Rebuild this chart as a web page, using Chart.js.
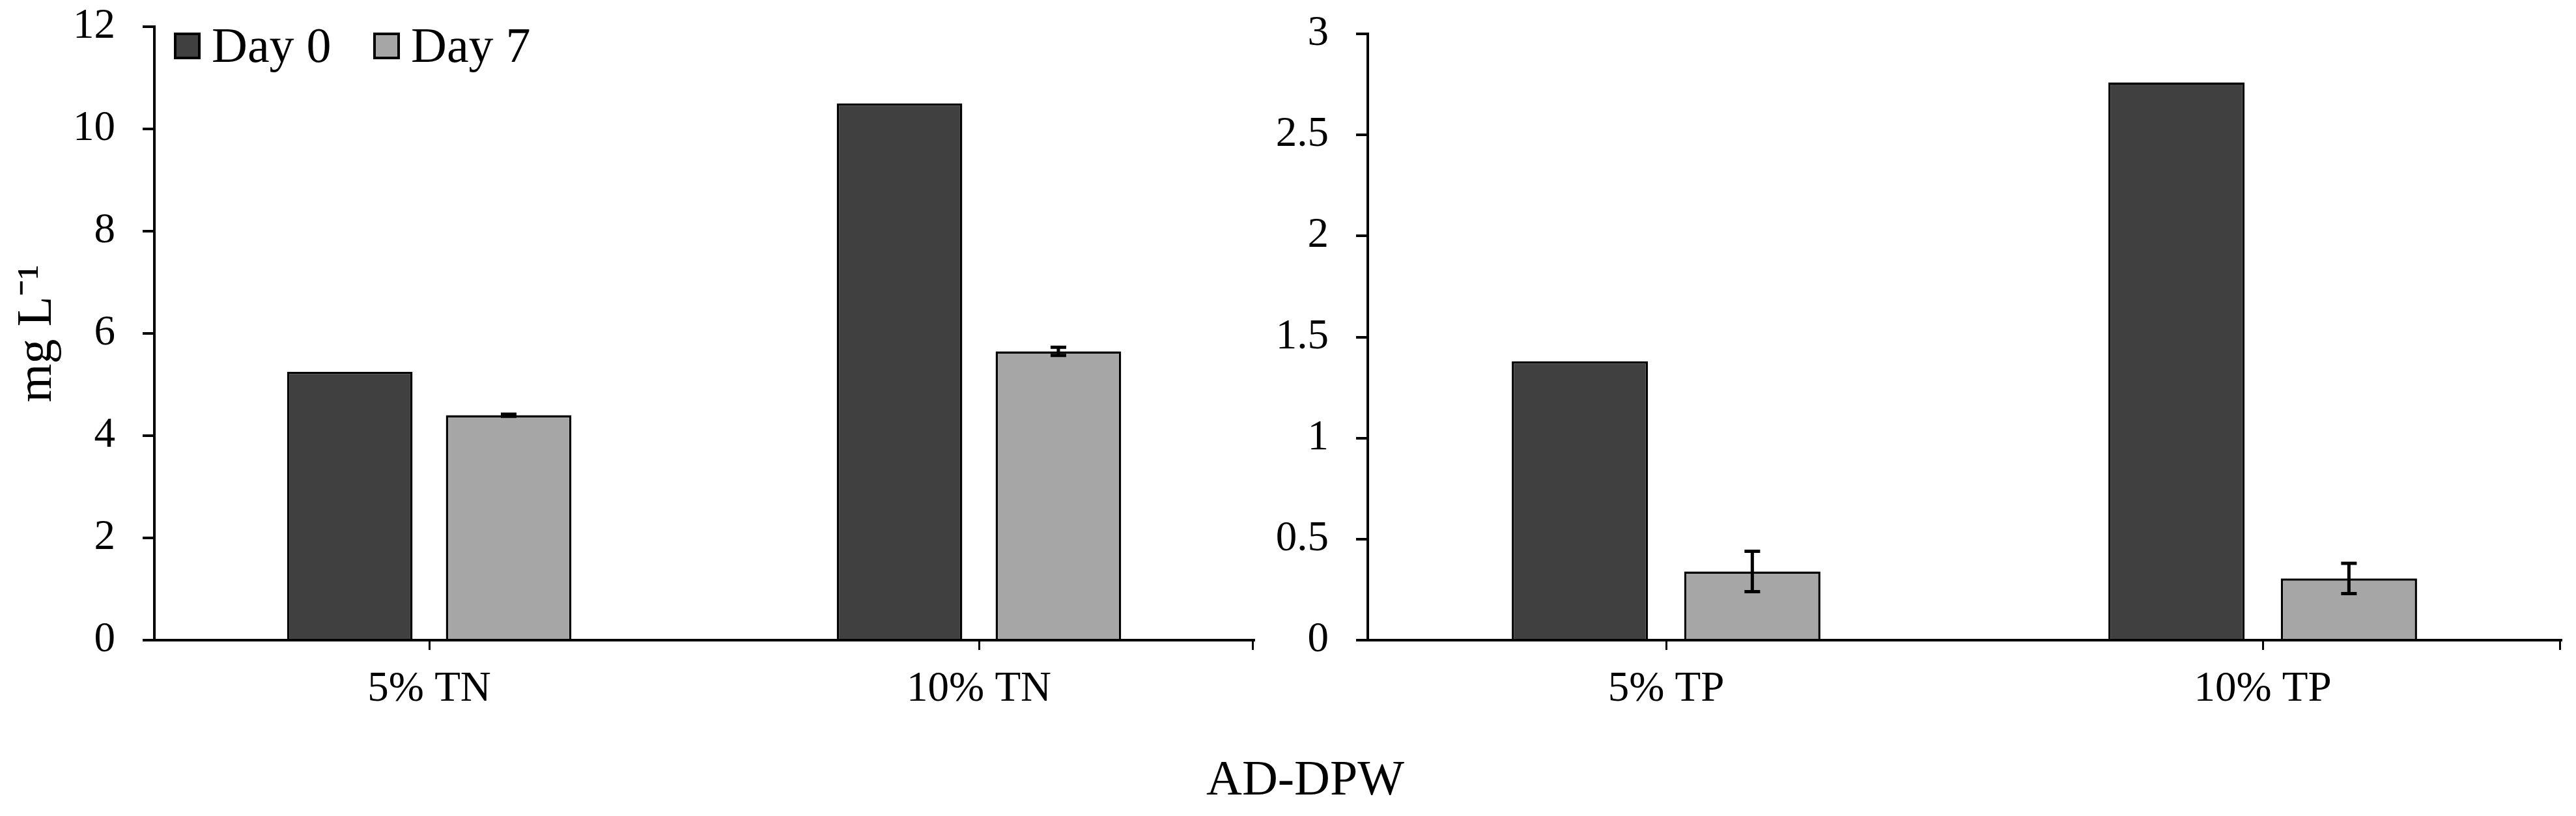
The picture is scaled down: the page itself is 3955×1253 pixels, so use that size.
<!DOCTYPE html>
<html>
<head>
<meta charset="utf-8">
<script src="https://cdn.jsdelivr.net/npm/chart.js@4.4.1/dist/chart.umd.min.js"></script>
<style>
  html, body { margin: 0; padding: 0; background: #fff; }
  #wrap { position: relative; width: 3955px; height: 1253px; overflow: hidden;
    font-family: 'Liberation Serif', 'Times New Roman', serif; color: #000; }
  #tnChart { position: absolute; left: 0; top: 0; }
  #tpChart { position: absolute; left: 1940px; top: 0; }
  #xTitle { position: absolute; left: 2004px; top: 1156px; transform: translateX(-50%);
    font-size: 76px; line-height: 1; white-space: nowrap; }
  .lg-box { position: absolute; top: 50px; width: 41px; height: 41px; box-sizing: border-box; border: 4px solid #000; }
  .lg-text { position: absolute; top: 31px; font-size: 76px; line-height: 1; white-space: nowrap; }
</style>
</head>
<body>
<div id="wrap">
  <canvas id="tnChart" width="1960" height="1253"></canvas>
  <canvas id="tpChart" width="2015" height="1253"></canvas>
  <div id="legend"></div>
  <div id="xTitle">AD-DPW</div>
</div>
<script>
// data
const tnLabels = ['5% TN', '10% TN'];
const tnDay0 = [5.25, 10.5];
const tnDay7 = [4.4, 5.65];
const tnDay0Err = [0, 0];
const tnDay7Err = [0.02, 0.08];

const tpLabels = ['5% TP', '10% TP'];
const tpDay0 = [1.38, 2.76];
const tpDay7 = [0.34, 0.305];
const tpDay0Err = [0, 0];
const tpDay7Err = [0.1, 0.075];

const seriesNames = ['Day 0', 'Day 7'];
const seriesColors = ['#404040', '#a6a6a6'];

Chart.defaults.font.family = "'Liberation Serif', 'Times New Roman', serif";
Chart.defaults.font.size = 65;
Chart.defaults.color = '#000';

// error bars, drawn through the y scale
const errorBars = {
  id: 'errorBars',
  afterDatasetsDraw(chart) {
    const ctx = chart.ctx;
    const y = chart.scales.y;
    chart.data.datasets.forEach((ds, di) => {
      if (!ds.err) return;
      chart.getDatasetMeta(di).data.forEach((bar, i) => {
        const e = ds.err[i];
        if (!e) return;
        const top = y.getPixelForValue(ds.data[i] + e);
        const bot = y.getPixelForValue(ds.data[i] - e);
        ctx.save();
        ctx.strokeStyle = '#000';
        ctx.lineWidth = 5;
        ctx.beginPath();
        ctx.moveTo(bar.x, top);
        ctx.lineTo(bar.x, bot);
        ctx.moveTo(bar.x - 12, top);
        ctx.lineTo(bar.x + 12, top);
        ctx.moveTo(bar.x - 12, bot);
        ctx.lineTo(bar.x + 12, bot);
        ctx.stroke();
        ctx.restore();
      });
    });
  }
};

// small tick at the right end of the category axis
const endTick = {
  id: 'endTick',
  afterDraw(chart) {
    const a = chart.chartArea;
    const ctx = chart.ctx;
    ctx.save();
    ctx.strokeStyle = '#000';
    ctx.lineWidth = 3;
    ctx.beginPath();
    ctx.moveTo(a.right - 1.5, a.bottom);
    ctx.lineTo(a.right - 1.5, a.bottom + 15);
    ctx.stroke();
    ctx.restore();
  }
};

function makeDatasets(d0, d7, e0, e7) {
  return [
    { label: seriesNames[0], data: d0, err: e0, backgroundColor: seriesColors[0],
      borderColor: '#000', borderWidth: 3.5, categoryPercentage: 0.578, barPercentage: 0.79 },
    { label: seriesNames[1], data: d7, err: e7, backgroundColor: seriesColors[1],
      borderColor: '#000', borderWidth: 3.5, categoryPercentage: 0.578, barPercentage: 0.79 }
  ];
}

function makeOptions(opt) {
  return {
    responsive: false,
    devicePixelRatio: 1,
    animation: false,
    layout: { padding: { top: opt.top, right: opt.right, left: 0, bottom: 0 } },
    plugins: { legend: { display: false }, tooltip: { enabled: false } },
    scales: {
      x: {
        offset: true,
        grid: { offset: false, drawOnChartArea: false, tickLength: 15, color: '#000', lineWidth: 3 },
        border: { display: true, color: '#000', width: 4 },
        ticks: { padding: 22, font: { size: 65 } },
        afterFit(s) {
          s.height = 1253 - 983;
          s.paddingLeft = 0; s.paddingRight = 0;
        }
      },
      y: {
        min: 0, max: opt.max,
        ticks: { stepSize: opt.step, padding: 42, font: { size: 65 }, callback: v => String(v) },
        grid: { drawOnChartArea: false, tickLength: 18, color: '#000', lineWidth: 4 },
        border: { display: true, color: '#000', width: 4 },
        title: opt.title
          ? { display: true, text: opt.title, font: { size: 76 }, padding: { top: 12, bottom: 0 } }
          : { display: false },
        afterFit(s) {
          s.width = opt.axisW;
          s.paddingTop = 0; s.paddingBottom = 0;
        }
      }
    }
  };
}

const tnChart = new Chart(document.getElementById('tnChart'), {
  type: 'bar',
  data: { labels: tnLabels, datasets: makeDatasets(tnDay0, tnDay7, tnDay0Err, tnDay7Err) },
  options: makeOptions({ top: 41, right: 35, max: 12, step: 2, axisW: 237, title: 'mg L\u207B\u00B9' }),
  plugins: [errorBars, endTick]
});

new Chart(document.getElementById('tpChart'), {
  type: 'bar',
  data: { labels: tpLabels, datasets: makeDatasets(tpDay0, tpDay7, tpDay0Err, tpDay7Err) },
  options: makeOptions({ top: 52, right: 23, max: 3, step: 0.5, axisW: 160, title: null }),
  plugins: [errorBars, endTick]
});

// legend inside the left plot, built from the datasets
const legend = document.getElementById('legend');
const lgX = [267, 573];
tnChart.data.datasets.forEach((ds, i) => {
  const box = document.createElement('div');
  box.className = 'lg-box';
  box.style.left = lgX[i] + 'px';
  box.style.background = ds.backgroundColor;
  const txt = document.createElement('div');
  txt.className = 'lg-text';
  txt.style.left = (lgX[i] + 58) + 'px';
  txt.textContent = ds.label;
  legend.appendChild(box);
  legend.appendChild(txt);
});
</script>
</body>
</html>
